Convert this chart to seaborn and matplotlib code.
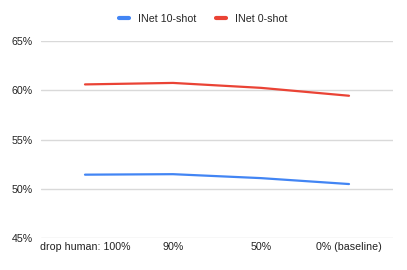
import pandas as pd
import seaborn as sns
import matplotlib.pyplot as plt
from matplotlib.ticker import FuncFormatter
from matplotlib.lines import Line2D

categories = ["drop human: 100%", "90%", "50%", "0% (baseline)"]
inet_10shot = [51.45, 51.5, 51.1, 50.5]
inet_0shot = [60.6, 60.75, 60.25, 59.45]

df = pd.DataFrame({
    "x": categories * 2,
    "acc": inet_10shot + inet_0shot,
    "series": ["INet 10-shot"] * 4 + ["INet 0-shot"] * 4,
})

sns.set_theme(style="white")
plt.rcParams['font.family'] = ['Liberation Sans', 'DejaVu Sans']

fig = plt.figure(figsize=(4.07, 2.70), dpi=100)
ax = fig.add_axes([41/407, 1-238.3/270, 352/407, (238.3-41)/270])

sns.lineplot(data=df, x="x", y="acc", hue="series", sort=False,
             palette={"INet 10-shot": "#4285F4", "INet 0-shot": "#EA4335"},
             linewidth=1.6, ax=ax, legend=False)

ax.set_xlim(-0.5, 3.5)
ax.set_ylim(45, 65)
ax.set_yticks([45, 50, 55, 60, 65])
ax.yaxis.set_major_formatter(FuncFormatter(lambda v, p: f"{v:.0f}%"))
ax.grid(axis="y", color="#d9d9d9", linewidth=1)
ax.set_axisbelow(True)
for s in ax.spines.values():
    s.set_visible(False)
ax.tick_params(axis="both", length=0, labelsize=7.7, colors="#222222")
ax.tick_params(axis="x", pad=3)
ax.tick_params(axis="y", pad=6)
ax.set_xlabel("")
ax.set_ylabel("")

# legend
handles = [Line2D([], [], color="#4285F4", linewidth=3),
           Line2D([], [], color="#EA4335", linewidth=3)]
fig.legend(handles, ["INet 10-shot", "INet 0-shot"], loc="center",
           bbox_to_anchor=(203/407, 1-19/270), ncol=2, frameon=False,
           fontsize=7.7, handlelength=1.0, handletextpad=0.8, columnspacing=1.8)

fig.savefig("out.png", dpi=100)
